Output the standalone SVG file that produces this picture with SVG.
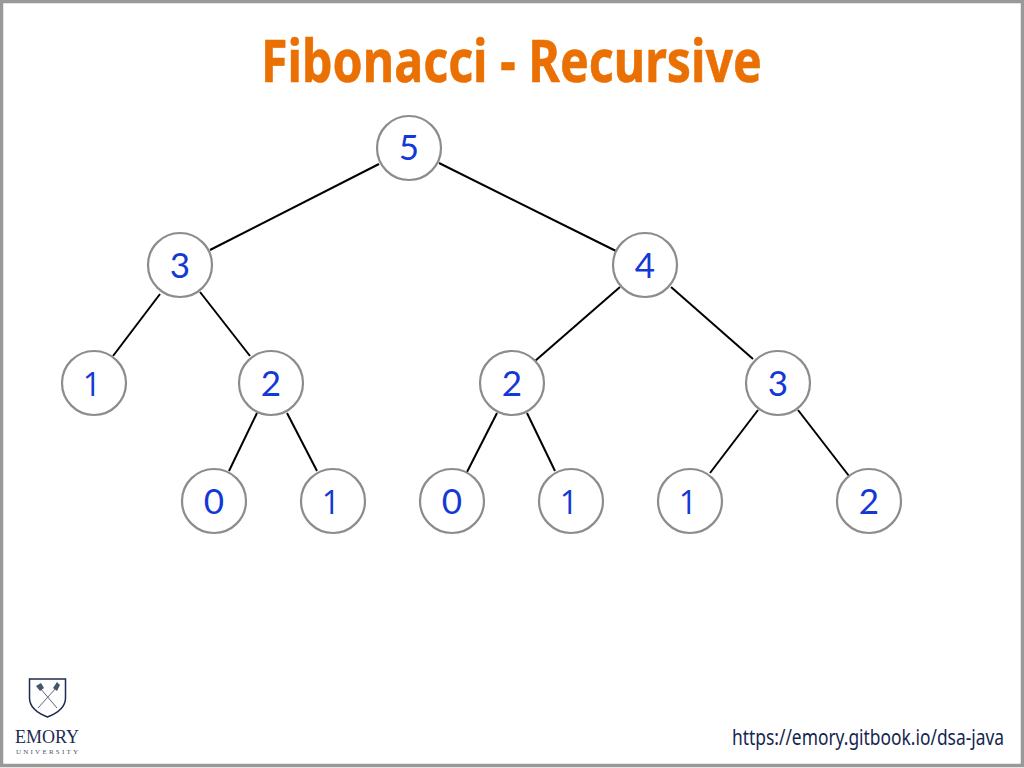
<svg xmlns="http://www.w3.org/2000/svg" width="1024" height="768" viewBox="0 0 1024 768">
<style>
.n circle{fill:#fff;stroke:#8c8c8c;stroke-width:2.200}
.n text{font-family:"Lato","Noto Sans",sans-serif;font-size:35px;fill:#1438d6;text-anchor:middle}
.n text.one{font-family:"Open Sans",sans-serif;font-size:32px}
#connectors line{stroke:#000;stroke-width:2}
.t{font-family:"Noto Sans",sans-serif}
</style>
<rect x="1.500" y="1.500" width="1021" height="764" fill="#fff" stroke="#999" stroke-width="3.500"/>
<text id="title" class="t" x="261" y="82" font-size="59" font-weight="700" fill="#ea7003" stroke="#ea7003" stroke-width="0.600" textLength="501" lengthAdjust="spacingAndGlyphs">Fibonacci - Recursive</text>
<g id="connectors">
<line x1="379" y1="164" x2="210" y2="250"/>
<line x1="439" y1="163" x2="616" y2="251"/>
<line x1="160" y1="294" x2="113" y2="356"/>
<line x1="200" y1="292" x2="250" y2="356"/>
<line x1="257" y1="413" x2="229" y2="471"/>
<line x1="287" y1="413" x2="317" y2="471"/>
<line x1="620" y1="287" x2="535" y2="361"/>
<line x1="671" y1="287" x2="753" y2="359"/>
<line x1="497" y1="413" x2="467" y2="472"/>
<line x1="527" y1="413" x2="555" y2="471"/>
<line x1="758" y1="410" x2="710" y2="473"/>
<line x1="798" y1="410" x2="849" y2="476"/>
</g>
<g id="n5" class="n"><circle cx="409" cy="148" r="32"/><text x="409" y="160">5</text></g>
<g id="n3a" class="n"><circle cx="180" cy="265" r="32"/><text x="180" y="278">3</text></g>
<g id="n4" class="n"><circle cx="645" cy="265" r="32"/><text x="645" y="278">4</text></g>
<g id="n1a" class="n"><circle cx="94" cy="383" r="32"/><text class="one" x="92" y="396">1</text></g>
<g id="n2a" class="n"><circle cx="271" cy="383" r="32"/><text x="271" y="396">2</text></g>
<g id="n2b" class="n"><circle cx="512" cy="383" r="32"/><text x="512" y="396">2</text></g>
<g id="n3b" class="n"><circle cx="778" cy="383" r="32"/><text x="778" y="396">3</text></g>
<g id="n0a" class="n"><circle cx="214" cy="501" r="32"/><text x="214" y="514">0</text></g>
<g id="n1b" class="n"><circle cx="333" cy="501" r="32"/><text class="one" x="331" y="514">1</text></g>
<g id="n0b" class="n"><circle cx="452" cy="501" r="32"/><text x="452" y="514">0</text></g>
<g id="n1c" class="n"><circle cx="571" cy="501" r="32"/><text class="one" x="569" y="514">1</text></g>
<g id="n1d" class="n"><circle cx="690" cy="501" r="32"/><text class="one" x="688" y="514">1</text></g>
<g id="n2c" class="n"><circle cx="869" cy="501" r="32"/><text x="869" y="514">2</text></g>
<g id="logo">
<path d="M29.500 679H65.500V698Q65.500 710 47.500 717Q29.500 710 29.500 698Z" fill="#fff" stroke="#1c2b50" stroke-width="1.500"/>
<path d="M38 708L56 688M57 708L40 688" stroke="#5a667f" stroke-width="1" fill="none"/>
<path d="M36 686L41 683L44 688L40 691ZM53 688L57 682L60 685L57 691Z" fill="#46546f"/>
<text x="15" y="742.500" font-family="Liberation Serif,serif" font-size="19.500" fill="#1c2b50" textLength="64" lengthAdjust="spacingAndGlyphs">EMORY</text>
<text x="16" y="753.500" font-family="Liberation Serif,serif" font-size="7" fill="#4a5670" textLength="62">UNIVERSITY</text>
</g>
<text id="url" class="t" transform="translate(732 745) scale(.79 1)" font-size="22" fill="#14264f">https://emory.gitbook.io/dsa-java</text>
</svg>
